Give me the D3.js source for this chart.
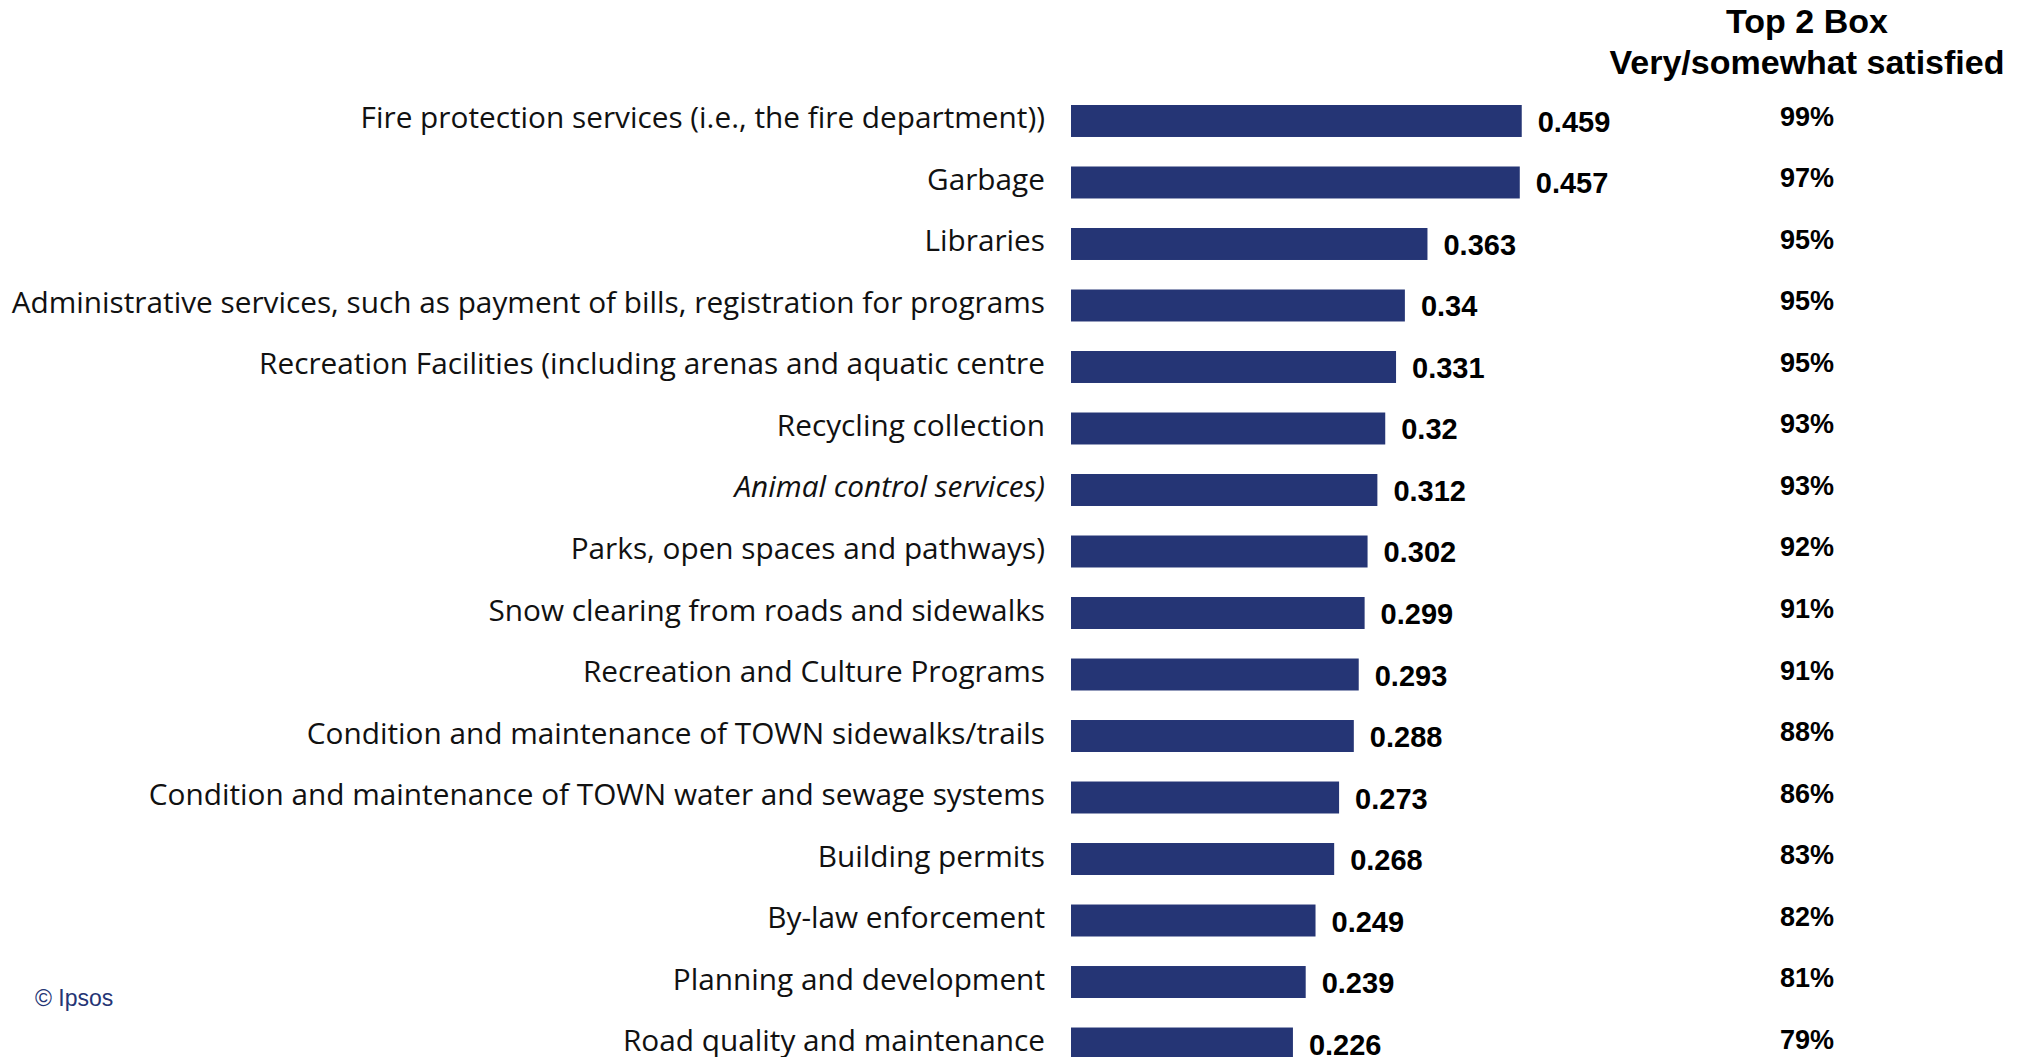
<!DOCTYPE html>
<html>
<head>
<meta charset="utf-8">
<script src="https://cdn.jsdelivr.net/npm/d3@7"></script>
<style>
  html, body { margin: 0; padding: 0; background: #ffffff; }
  svg { display: block; }
</style>
</head>
<body>
<svg id="chart" width="2021" height="1057"></svg>
<script>
// Satisfaction with town services: mean importance-weighted score and Top 2 Box share
const categories = [
  "Fire protection services (i.e., the fire department))",
  "Garbage",
  "Libraries",
  "Administrative services, such as payment of bills, registration for programs",
  "Recreation Facilities (including arenas and aquatic centre",
  "Recycling collection",
  "Animal control services)",
  "Parks, open spaces and pathways)",
  "Snow clearing from roads and sidewalks",
  "Recreation and Culture Programs",
  "Condition and maintenance of TOWN sidewalks/trails",
  "Condition and maintenance of TOWN water and sewage systems",
  "Building permits",
  "By-law enforcement",
  "Planning and development",
  "Road quality and maintenance"
];
const scores = [0.459, 0.457, 0.363, 0.34, 0.331, 0.32, 0.312, 0.302, 0.299, 0.293, 0.288, 0.273, 0.268, 0.249, 0.239, 0.226];
const top2Box = ["99%", "97%", "95%", "95%", "95%", "93%", "93%", "92%", "91%", "91%", "88%", "86%", "83%", "82%", "81%", "79%"];
const headerLines = ["Top 2 Box", "Very/somewhat satisfied"];
const italicCategories = ["Animal control services)"];

const svg = d3.select("#chart");
const barColor = "#253575";
const labelFont = "'Open Sans', 'Noto Sans', sans-serif";
const boldFont = "'Liberation Sans', Arial, sans-serif";

const x = d3.scaleLinear().domain([0, 0.5]).range([1071, 1562]);
const y = d3.scaleBand()
  .domain(categories)
  .range([105, 1059.5])
  .paddingInner(0.48)
  .paddingOuter(0)
  .align(0);

// Bars
svg.append("g").selectAll("rect")
  .data(categories)
  .join("rect")
  .attr("x", x(0))
  .attr("y", d => y(d))
  .attr("width", (d, i) => x(scores[i]) - x(0))
  .attr("height", y.bandwidth())
  .attr("fill", barColor);

// Category labels, sized so the longest one fills the space left of the bars
const labelRight = 1045;
const labelLeft = 11;
const labels = svg.append("g").selectAll("text")
  .data(categories)
  .join("text")
  .attr("x", labelRight)
  .attr("y", d => y(d) + y.bandwidth() / 2 - 4)
  .attr("text-anchor", "end")
  .attr("dominant-baseline", "central")
  .attr("font-family", labelFont)
  .attr("font-weight", 400)
  .attr("font-style", d => italicCategories.includes(d) ? "italic" : "normal")
  .attr("font-size", 30)
  .attr("fill", "#111111")
  .text(d => d);

let widest = 0;
labels.each(function() { widest = Math.max(widest, this.getComputedTextLength()); });
const fitted = 30 * (labelRight - labelLeft) / widest;
labels.attr("font-size", fitted);

// Score labels at bar ends
svg.append("g").selectAll("text")
  .data(categories)
  .join("text")
  .attr("x", (d, i) => x(scores[i]) + 16)
  .attr("y", d => y(d) + y.bandwidth() / 2 + 11)
  .attr("font-family", boldFont)
  .attr("font-weight", 700)
  .attr("font-size", 29)
  .attr("fill", "#000000")
  .text((d, i) => String(scores[i]));

// Top 2 Box column
const colX = 1807;
svg.append("g").selectAll("text")
  .data(categories)
  .join("text")
  .attr("x", colX)
  .attr("y", d => y(d) + y.bandwidth() / 2 + 5)
  .attr("text-anchor", "middle")
  .attr("font-family", boldFont)
  .attr("font-weight", 700)
  .attr("font-size", 27)
  .attr("fill", "#000000")
  .text((d, i) => top2Box[i]);

svg.append("g").selectAll("text")
  .data(headerLines)
  .join("text")
  .attr("x", colX)
  .attr("y", (d, i) => 33 + i * 41)
  .attr("text-anchor", "middle")
  .attr("font-family", boldFont)
  .attr("font-weight", 700)
  .attr("font-size", 34)
  .attr("fill", "#000000")
  .text(d => d);

// Copyright note
svg.append("text")
  .attr("x", 35)
  .attr("y", 1006)
  .attr("font-family", "'Liberation Sans', Arial, sans-serif")
  .attr("font-size", 23)
  .attr("fill", barColor)
  .text("© Ipsos");
</script>
</body>
</html>
